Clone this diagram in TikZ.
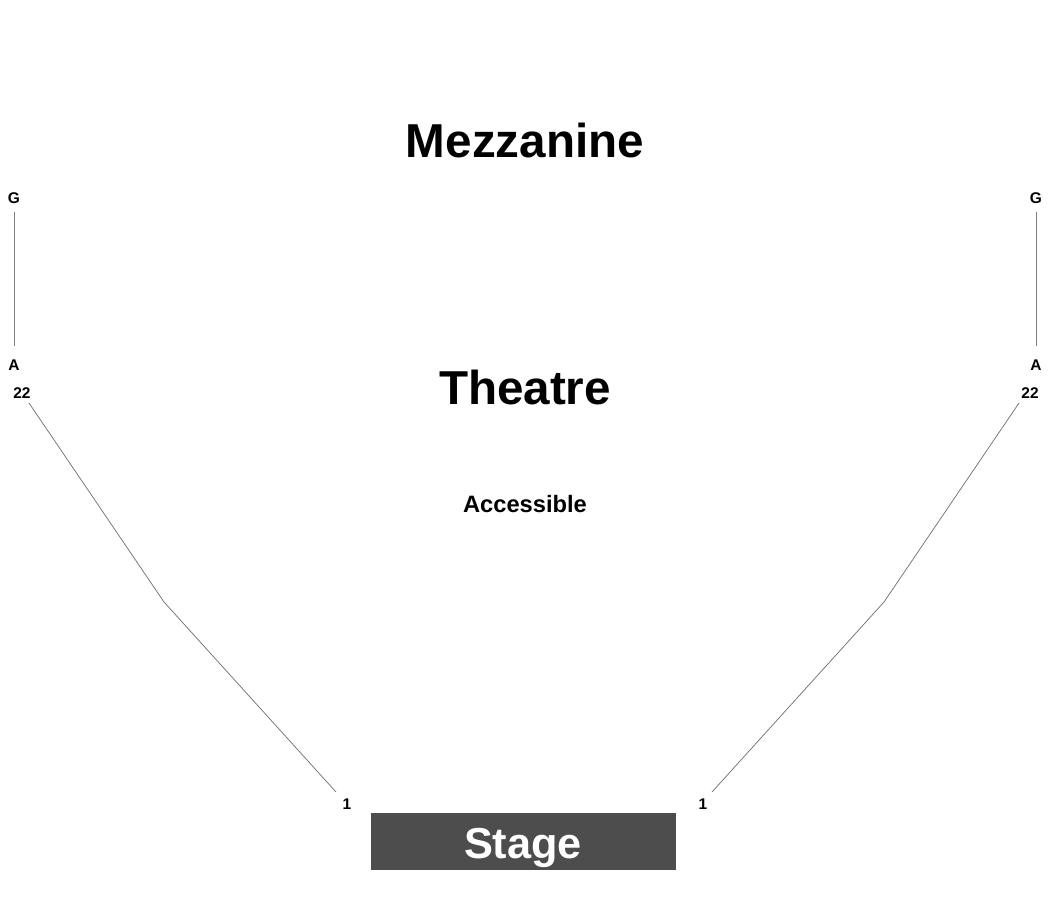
\documentclass[tikz,border=0pt]{standalone}
\usepackage{fontspec}
\setmainfont{Liberation Sans}
\usetikzlibrary{positioning}
\definecolor{stagegray}{RGB}{77,77,77}
\tikzset{
	title/.style={font=\bfseries\fontsize{47.6}{50}\selectfont,anchor=base},
	rowlabel/.style={font=\bfseries\fontsize{15.5}{17}\selectfont,anchor=base},
	rowline/.style={draw=gray!85!black,line width=0.7pt},
}

\begin{document}
\begin{tikzpicture}[x=1pt,y=-1pt]
	\useasboundingbox (0,0) rectangle (1050,900);
	% headings
	\node[title] (mezz) at (525,157) {Mezzanine};
	\node[title] (theatre) at (525,404) {Theatre};
	\node[font=\bfseries\fontsize{23.7}{26}\selectfont,anchor=base] (access) at (525,512) {Accessible};
	% stage
	\fill[stagegray] (371,813) rectangle (676,870);
	\node[title,font=\bfseries\fontsize{43.3}{46}\selectfont,text=white] (stage) at (523,858) {Stage};
	% row labels
	\foreach \s/\x/\xx in {l/14/22, r/1036/1030} {
		\node[rowlabel] (G\s) at (\x,203) {G};
		\node[rowlabel] (A\s) at (\x,370) {A};
		\node[rowlabel] (N\s) at (\xx,398) {22};
	}
	\node[rowlabel] (Ol) at (347,809) {1};
	\node[rowlabel] (Or) at (703,809) {1};
	% mezzanine rows
	\coordinate (mtl) at (14,212);
	\coordinate (mbl) at (14,346);
	\coordinate (mtr) at (1036,212);
	\coordinate (mbr) at (1036,346);
	\draw[rowline,draw=gray] (mtl) -- (mbl);
	\draw[rowline,draw=gray] (mtr) -- (mbr);
	% theatre rows
	\coordinate (tl) at (29,403);
	\coordinate (kl) at (164,602);
	\coordinate (bl) at (336,792);
	\coordinate (tr) at (1019,403);
	\coordinate (kr) at (884,602);
	\coordinate (br) at (712,792);
	\draw[rowline] (tl) -- (kl) -- (bl);
	\draw[rowline] (tr) -- (kr) -- (br);
\end{tikzpicture}
\end{document}
